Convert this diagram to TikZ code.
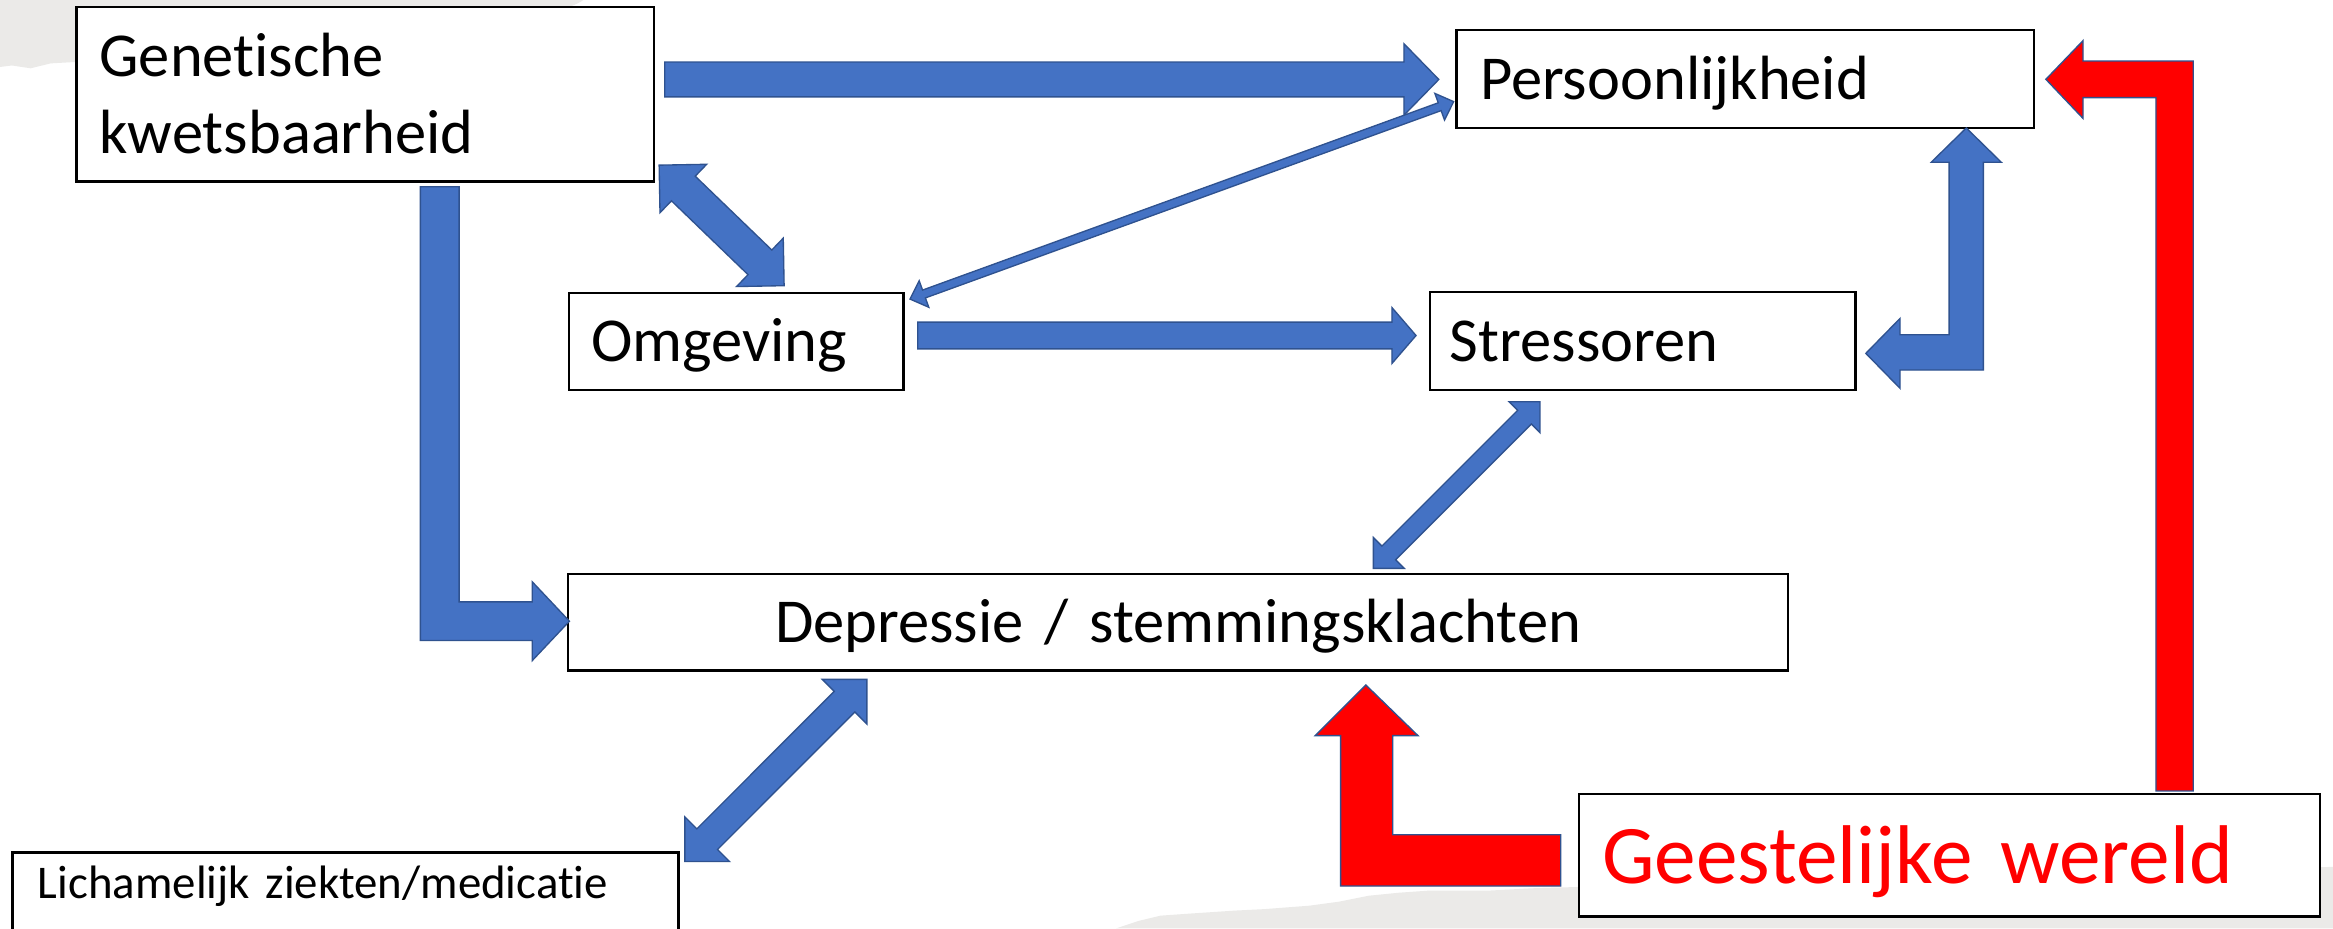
\documentclass[tikz,border=0pt]{standalone}
\usepackage{fontspec}
\setmainfont{Carlito}[Ligatures={NoCommon}]
\usetikzlibrary{calc}
\definecolor{ablue}{HTML}{4472C4}
\definecolor{aedge}{HTML}{2F528F}
\definecolor{bggrey}{HTML}{EBEAE8}
\definecolor{ared}{HTML}{FF0000}
\tikzset{
  box/.style={draw=black, line width=1.5pt, fill=white, anchor=base west, outer sep=0pt,
    inner ysep=0pt, align=left, font=\fontsize{42pt}{51.5pt}\selectfont},
  bluearrow/.style={fill=ablue, draw=aedge, line width=0.9pt, line join=miter},
  redarrow/.style={fill=ared, draw=aedge, line width=0.9pt, line join=miter},
  bgshape/.style={fill=bggrey, draw=none},
}
% #1 style, #2 start, #3 end, #4 shaft half width, #5 head half width, #6 head length, #7 double (1) or single (0)
\newcommand\barrow[7]{%
  \coordinate (ba-b) at ($(#3)!#6pt!(#2)$);
  \coordinate (ba-c) at ($(#2)!#6pt!(#3)$);
  \ifnum#7=1
    \filldraw[#1] (#2) -- ($(ba-c)!#5pt!90:(#3)$) -- ($(ba-c)!#4pt!90:(#3)$)
      -- ($(ba-b)!#4pt!-90:(#2)$) -- ($(ba-b)!#5pt!-90:(#2)$) -- (#3)
      -- ($(ba-b)!#5pt!90:(#2)$) -- ($(ba-b)!#4pt!90:(#2)$)
      -- ($(ba-c)!#4pt!-90:(#3)$) -- ($(ba-c)!#5pt!-90:(#3)$) -- cycle;
  \else
    \filldraw[#1] ($(#2)!#4pt!90:(#3)$) -- ($(ba-b)!#4pt!-90:(#2)$)
      -- ($(ba-b)!#5pt!-90:(#2)$) -- (#3) -- ($(ba-b)!#5pt!90:(#2)$)
      -- ($(ba-b)!#4pt!90:(#2)$) -- ($(#2)!#4pt!-90:(#3)$) -- cycle;
  \fi}
\begin{document}
\begin{tikzpicture}[x=1pt, y=-1pt]
\clip (0,0) rectangle (1568,624);
\fill[white] (0,0) rectangle (1568,624);
% background grey shapes
\fill[bgshape] (0,0) -- (392,0) .. controls (388,3) and (380,6) .. (370,8) -- (55,8) -- (55,41.4)
  -- (34,42.6) -- (20.6,45.9) -- (8,44) -- (0,45) -- cycle;
\fill[bgshape] (750,624) -- (765,619) -- (780,615.4) -- (800,614) -- (830,612) -- (850,611)
  -- (880,608.7) -- (900,606) -- (920,602) -- (940,600) -- (960,598.6) -- (1000,598.6)
  -- (1030,597) -- (1065,596) -- (1065,610) -- (1555,610) -- (1555,583) -- (1568,582.6)
  -- (1568,624) -- cycle;
% boxes
\node[box, inner xsep=15.5pt, text width=357.2pt, text height=47pt, text depth=70.5pt]
  (gen) at (51.4,51.5) {Genetische\\kwetsbaarheid};
\node[box, inner xsep=15.8pt, text width=356.5pt, text height=47pt, text depth=19pt]
  (pers) at (978.9,67.2) {Persoonlijkheid};
\node[box, inner xsep=15.2pt, text width=194.6pt, text height=46.3pt, text depth=19.1pt]
  (omg) at (382.2,243) {Omgeving};
\node[box, inner xsep=13.5pt, text width=259pt, text height=47pt, text depth=19pt]
  (str) at (961,243) {Stressoren};
\node[box, align=center, inner xsep=15pt, text width=789.7pt, text height=46.1pt, text depth=18.8pt]
  (dep) at (381.9,431.9) {Depressie / stemmingsklachten};
\node[box, font=\fontsize{31.5pt}{38pt}\selectfont, inner xsep=17.1pt, text width=413.4pt,
  text height=30.6pt, text depth=50pt]
  (lich) at (8.4,603.6) {Lichamelijk ziekten/medicatie};
\node[box, font=\fontsize{56pt}{68pt}\selectfont, text=ared, inner xsep=15.3pt, text width=467.4pt,
  text height=60.1pt, text depth=22.3pt]
  (gw) at (1061.4,593.7) {Geestelijke wereld};
% straight block arrows
\coordinate (gen-pers-s) at (446.8,53.4);
\coordinate (gen-pers-e) at (967,53.4);
\barrow{bluearrow}{gen-pers-s}{gen-pers-e}{11.7}{24}{23.4}{0}
\coordinate (gen-omg-s) at (443,111);
\coordinate (gen-omg-e) at (527,192);
\barrow{bluearrow}{gen-omg-s}{gen-omg-e}{11.5}{22.6}{22.6}{1}
\coordinate (omg-str-s) at (616.8,225.5);
\coordinate (omg-str-e) at (951.7,225.5);
\barrow{bluearrow}{omg-str-s}{omg-str-e}{9}{18.8}{16.2}{0}
\coordinate (omg-pers-s) at (611.6,201);
\coordinate (omg-pers-e) at (977,68.3);
\barrow{bluearrow}{omg-pers-s}{omg-pers-e}{2.8}{9.5}{10}{1}
\coordinate (str-dep-s) at (923,382);
\coordinate (str-dep-e) at (1035,270);
\barrow{bluearrow}{str-dep-s}{str-dep-e}{6.5}{14.7}{14.7}{1}
\coordinate (dep-lich-s) at (460.3,579);
\coordinate (dep-lich-e) at (582.6,456.6);
\barrow{bluearrow}{dep-lich-s}{dep-lich-e}{9.8}{21.2}{21.2}{1}
% bent block arrows
\filldraw[bluearrow] (282.5,125.5) -- (308.6,125.5) -- (308.6,404.5) -- (357.7,404.5) -- (357.7,391)
  -- (382.7,417.5) -- (357.7,444) -- (357.7,430.5) -- (282.5,430.5) -- cycle;
\filldraw[bluearrow] (1254,237.5) -- (1277,214) -- (1277,225) -- (1310,225) -- (1310,109) -- (1298,109)
  -- (1321.5,86) -- (1345,109) -- (1333,109) -- (1333,248.7) -- (1277,248.7) -- (1277,261) -- cycle;
\filldraw[redarrow] (1375,53.3) -- (1400,27.3) -- (1400,41) -- (1474,41) -- (1474,531.6) -- (1449,531.6)
  -- (1449,65.6) -- (1400,65.6) -- (1400,79.6) -- cycle;
\filldraw[redarrow] (918,460.4) -- (953,494.4) -- (936,494.4) -- (936,561) -- (1049,561) -- (1049,595.5)
  -- (901,595.5) -- (901,494.4) -- (884,494.4) -- cycle;
\end{tikzpicture}
\end{document}
